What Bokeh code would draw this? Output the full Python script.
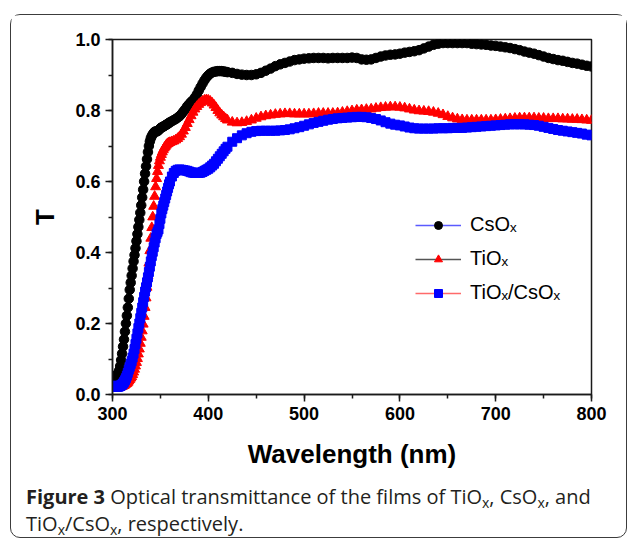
from bokeh.plotting import figure
from bokeh.layouts import column
from bokeh.models import (SingleIntervalTicker, PrintfTickFormatter, Legend, LegendItem,
                          Range1d, ColumnDataSource, Div)
from bokeh.embed import file_html
from bokeh.resources import INLINE

# ---------------- data ----------------
wavelength = list(range(300, 361)) + list(range(362, 421, 2)) + list(range(425, 801, 5))

T_CsOx = [
    0.052, 0.052, 0.052, 0.052, 0.053, 0.055, 0.060, 0.068, 0.080, 0.097,
    0.115, 0.135, 0.155, 0.177, 0.200, 0.222, 0.245, 0.270, 0.295, 0.315,
    0.335, 0.355, 0.375, 0.393, 0.412, 0.432, 0.452, 0.472, 0.492, 0.512,
    0.533, 0.555, 0.577, 0.600, 0.622, 0.643, 0.663, 0.683, 0.700, 0.713,
    0.722, 0.728, 0.733, 0.737, 0.740, 0.741, 0.741, 0.742, 0.744, 0.747,
    0.750, 0.752, 0.753, 0.755, 0.756, 0.758, 0.760, 0.761, 0.763, 0.765,
    0.767,
    0.770, 0.773, 0.776, 0.780, 0.784, 0.790, 0.797, 0.804, 0.812, 0.818,
    0.824, 0.829, 0.836, 0.845, 0.856, 0.866, 0.876, 0.885, 0.893, 0.899,
    0.904, 0.907, 0.909, 0.910, 0.911, 0.911, 0.911, 0.910, 0.909, 0.908,
    0.906, 0.903, 0.901, 0.900, 0.900, 0.902, 0.906, 0.912, 0.918, 0.925,
    0.930, 0.934, 0.938, 0.942, 0.944, 0.946, 0.947, 0.948, 0.948, 0.948,
    0.947, 0.948, 0.948, 0.948, 0.948, 0.949, 0.948, 0.944, 0.943, 0.944,
    0.948, 0.952, 0.955, 0.957, 0.958, 0.960, 0.963, 0.965, 0.967, 0.970,
    0.975, 0.980, 0.985, 0.988, 0.990, 0.990, 0.990, 0.990, 0.990, 0.990,
    0.988, 0.987, 0.986, 0.985, 0.983, 0.982, 0.980, 0.978, 0.976, 0.973,
    0.970, 0.966, 0.963, 0.960, 0.956, 0.952, 0.948, 0.945, 0.942, 0.940,
    0.937, 0.934, 0.932, 0.929, 0.926, 0.924,
]

T_TiOx = [
    0.020, 0.020, 0.020, 0.020, 0.020, 0.020, 0.020, 0.020, 0.021, 0.022,
    0.023, 0.024, 0.025, 0.027, 0.029, 0.031, 0.034, 0.038, 0.042, 0.046,
    0.050, 0.056, 0.063, 0.071, 0.080, 0.090, 0.101, 0.114, 0.128, 0.144,
    0.161, 0.179, 0.198, 0.220, 0.245, 0.272, 0.302, 0.335, 0.370, 0.405,
    0.440, 0.470, 0.500, 0.530, 0.558, 0.585, 0.608, 0.628, 0.645, 0.658,
    0.668, 0.676, 0.683, 0.689, 0.694, 0.698, 0.702, 0.705, 0.707, 0.709,
    0.710,
    0.712, 0.714, 0.717, 0.721, 0.726, 0.733, 0.742, 0.752, 0.763, 0.774,
    0.785, 0.795, 0.804, 0.811, 0.817, 0.822, 0.826, 0.829, 0.830, 0.829,
    0.826, 0.821, 0.815, 0.808, 0.800, 0.793, 0.787, 0.782, 0.777, 0.773,
    0.767, 0.765, 0.766, 0.769, 0.773, 0.778, 0.782, 0.785, 0.787, 0.789,
    0.790, 0.791, 0.791, 0.790, 0.790, 0.790, 0.790, 0.791, 0.792, 0.792,
    0.792, 0.792, 0.793, 0.795, 0.797, 0.799, 0.801, 0.802, 0.803, 0.804,
    0.806, 0.808, 0.809, 0.810, 0.810, 0.809, 0.807, 0.804, 0.801, 0.799,
    0.798, 0.797, 0.795, 0.792, 0.788, 0.783, 0.779, 0.776, 0.774, 0.773,
    0.773, 0.773, 0.773, 0.773, 0.773, 0.774, 0.775, 0.776, 0.777, 0.778,
    0.779, 0.779, 0.779, 0.779, 0.778, 0.778, 0.777, 0.777, 0.777, 0.776,
    0.776, 0.775, 0.775, 0.774, 0.773, 0.772,
]

T_TiOx_CsOx = [
    0.025, 0.024, 0.023, 0.022, 0.022, 0.022, 0.022, 0.023, 0.024, 0.026,
    0.028, 0.031, 0.035, 0.040, 0.046, 0.053, 0.061, 0.070, 0.078, 0.086,
    0.094, 0.104, 0.115, 0.128, 0.142, 0.157, 0.172, 0.187, 0.200, 0.215,
    0.230, 0.245, 0.260, 0.275, 0.290, 0.302, 0.316, 0.330, 0.345, 0.360,
    0.375, 0.390, 0.402, 0.415, 0.428, 0.440, 0.452, 0.458, 0.465, 0.480,
    0.495, 0.510, 0.522, 0.532, 0.542, 0.552, 0.562, 0.572, 0.582, 0.592,
    0.600,
    0.614, 0.624, 0.630, 0.633, 0.634, 0.633, 0.632, 0.631, 0.630, 0.628,
    0.626, 0.625, 0.624, 0.624, 0.624, 0.625, 0.627, 0.630, 0.633, 0.636,
    0.640, 0.645, 0.650, 0.657, 0.664, 0.671, 0.678, 0.685, 0.692, 0.698,
    0.712, 0.722, 0.730, 0.736, 0.740, 0.742, 0.743, 0.743, 0.743, 0.743,
    0.744, 0.745, 0.747, 0.750, 0.753, 0.757, 0.761, 0.765, 0.768, 0.771,
    0.774, 0.776, 0.778, 0.779, 0.780, 0.781, 0.782, 0.782, 0.781, 0.779,
    0.776, 0.772, 0.767, 0.763, 0.760, 0.758, 0.755, 0.752, 0.750, 0.749,
    0.749, 0.749, 0.749, 0.750, 0.750, 0.750, 0.751, 0.751, 0.751, 0.752,
    0.753, 0.754, 0.755, 0.756, 0.757, 0.758, 0.759, 0.760, 0.761, 0.761,
    0.761, 0.761, 0.760, 0.759, 0.757, 0.754, 0.751, 0.748, 0.745, 0.743,
    0.741, 0.739, 0.737, 0.735, 0.732, 0.730,
]

series_labels = ["CsO\u2093", "TiO\u2093", "TiO\u2093/CsO\u2093"]
x_ticks_interval = 100
y_ticks_interval = 0.2

SUB = '<span style="font-size:14px;vertical-align:-4px;line-height:0">x</span>'
caption_html = ('<div style="position:relative;top:2px">'
                '<b>Figure 3</b> Optical transmittance of the films of '
                'TiO' + SUB + ', CsO' + SUB + ', and<br>'
                'TiO' + SUB + '/CsO' + SUB + ', respectively.</div>')

# ---------------- figure ----------------
p = figure(width=615, height=466, output_backend="svg", toolbar_location=None,
           x_range=Range1d(300, 800), y_range=Range1d(0, 1.0),
           min_border_left=101, min_border_right=35, min_border_top=24, min_border_bottom=87,
           background_fill_color="white", border_fill_color="white")
p.margin = 0
p.grid.visible = False
p.outline_line_color = "#1a1a1a"
p.outline_line_width = 1.5

src = ColumnDataSource(dict(wl=wavelength, cs=T_CsOx, ti=T_TiOx, tc=T_TiOx_CsOx))
p.scatter("wl", "cs", source=src, marker="circle", size=9.5, fill_color="black", line_color="black")
p.scatter("wl", "ti", source=src, marker="triangle", size=10, fill_color="red", line_color="red")
p.scatter("wl", "tc", source=src, marker="square", size=9, fill_color="blue", line_color="blue")

for ax in (p.xaxis[0], p.yaxis[0]):
    ax.axis_line_width = 1.5
    ax.axis_line_color = "#1a1a1a"
    ax.major_tick_line_color = "#1a1a1a"
    ax.minor_tick_line_color = "#1a1a1a"
    ax.major_tick_line_width = 1.5
    ax.minor_tick_line_width = 1.5
    ax.major_tick_in = 0
    ax.major_tick_out = 7
    ax.minor_tick_in = 0
    ax.minor_tick_out = 4
    ax.major_label_text_font = "Liberation Sans"
    ax.major_label_text_font_style = "bold"
    ax.major_label_text_font_size = "18px"
    ax.major_label_text_color = "black"
    ax.axis_label_text_font = "Liberation Sans"
    ax.axis_label_text_font_style = "bold"
    ax.axis_label_text_font_size = "26px"
    ax.axis_label_text_color = "black"
    ax.major_label_standoff = 5

p.xaxis[0].ticker = SingleIntervalTicker(interval=x_ticks_interval, num_minor_ticks=2)
p.yaxis[0].ticker = SingleIntervalTicker(interval=y_ticks_interval, num_minor_ticks=2)
p.yaxis[0].formatter = PrintfTickFormatter(format="%.1f")
p.xaxis[0].axis_label = "Wavelength (nm)"
p.yaxis[0].axis_label = "T"
p.xaxis[0].axis_label_standoff = 16
p.yaxis[0].axis_label_standoff = 12

# legend (line colours as in the original legend); renderers hold no visible data
nan = float("nan")
l1 = p.line([nan], [nan], line_color="#5a5aff", line_width=1.5)
m1 = p.scatter([nan], [nan], marker="circle", size=9, fill_color="black", line_color="black")
l2 = p.line([nan], [nan], line_color="#555555", line_width=1.5)
m2 = p.scatter([nan], [nan], marker="triangle", size=10, fill_color="red", line_color="red")
l3 = p.line([nan], [nan], line_color="#ff6a6a", line_width=1.5)
m3 = p.scatter([nan], [nan], marker="square", size=8, fill_color="blue", line_color="blue")
legend = Legend(items=[LegendItem(label=series_labels[0], renderers=[l1, m1]),
                       LegendItem(label=series_labels[1], renderers=[l2, m2]),
                       LegendItem(label=series_labels[2], renderers=[l3, m3])],
                location=(303, 90), orientation="vertical",
                glyph_width=46, glyph_height=20, label_height=20, spacing=11,
                padding=0, margin=0, label_standoff=9,
                border_line_alpha=0, background_fill_alpha=0,
                label_text_font="Liberation Sans", label_text_font_size="20px",
                label_text_color="black")
p.add_layout(legend)

# caption
cap = Div(text=caption_html, width=600, height=56, margin=(0, 0, 0, 15),
          styles={"font-family": "'Open Sans', sans-serif", "font-size": "20px",
                  "line-height": "27.3px", "color": "#231f20"})

layout = column(p, cap, margin=(14, 0, 0, 10), spacing=0,
                styles={"border": "1.5px solid #3c3c3c", "border-radius": "10px",
                        "background-color": "white"})

open("out.html", "w").write(file_html(layout, INLINE))
